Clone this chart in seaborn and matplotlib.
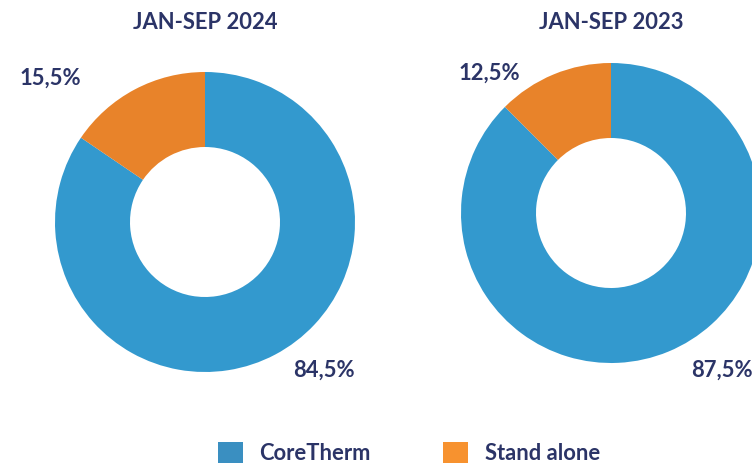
import matplotlib
matplotlib.use("Agg")
import matplotlib.pyplot as plt
import seaborn as sns
from matplotlib.patches import Patch

sns.set_theme(style="white")
plt.rcParams["font.family"] = ["Lato", "DejaVu Sans"]

# data
categories = ["CoreTherm", "Stand alone"]
periods = ["JAN-SEP 2024", "JAN-SEP 2023"]
share_2024 = [84.5, 15.5]
share_2023 = [87.5, 12.5]

pie_colors = ["#3399CE", "#E8832A"]
legend_colors = ["#3A8FC1", "#F7922F"]
navy = "#2B3467"
fs = 15.8


def fmt(v):
    return f"{v:.1f}%".replace(".", ",")


fig = plt.figure(figsize=(7.52, 4.65), dpi=100)

# axes boxes in figure fractions (pie radius = 150 px)
boxes = [
    [55 / 752, (465 - 372) / 465, 300 / 752, 300 / 465],
    [461 / 752, (465 - 363) / 465, 300 / 752, 300 / 465],
]
# label offsets in units of radius: (big slice, small slice)
label_pos = [
    [(0.79, -0.99), (-1.03, 0.96)],
    [(0.74, -1.05), (-0.81, 0.93)],
]
title_y = [1.33, 1.27]

for box, period, vals, lp, ty in zip(boxes, periods, [share_2024, share_2023], label_pos, title_y):
    ax = fig.add_axes(box)
    ax.pie(
        vals,
        colors=pie_colors,
        startangle=90,
        counterclock=False,
        radius=1,
        wedgeprops=dict(width=0.5, linewidth=0),
    )
    ax.set_xlim(-1, 1)
    ax.set_ylim(-1, 1)
    ax.set_aspect("equal")
    ax.axis("off")
    for v, (x, y) in zip(vals, lp):
        ax.text(x, y, fmt(v), ha="center", va="center", fontsize=fs,
                fontweight="bold", color=navy, clip_on=False)
    ax.text(0, ty, period, ha="center", va="center", fontsize=fs,
            fontweight="bold", color=navy, clip_on=False)

handles = [Patch(facecolor=c, edgecolor="none", label=l) for c, l in zip(legend_colors, categories)]
leg = fig.legend(
    handles=handles,
    loc="center",
    bbox_to_anchor=(0.544, 0.026),
    ncol=2,
    frameon=False,
    fontsize=fs,
    handlelength=1.12,
    handleheight=1.12,
    handletextpad=0.77,
    columnspacing=3.3,
)
for t in leg.get_texts():
    t.set_color(navy)
    t.set_fontweight("bold")

fig.savefig("out.png", dpi=100)
